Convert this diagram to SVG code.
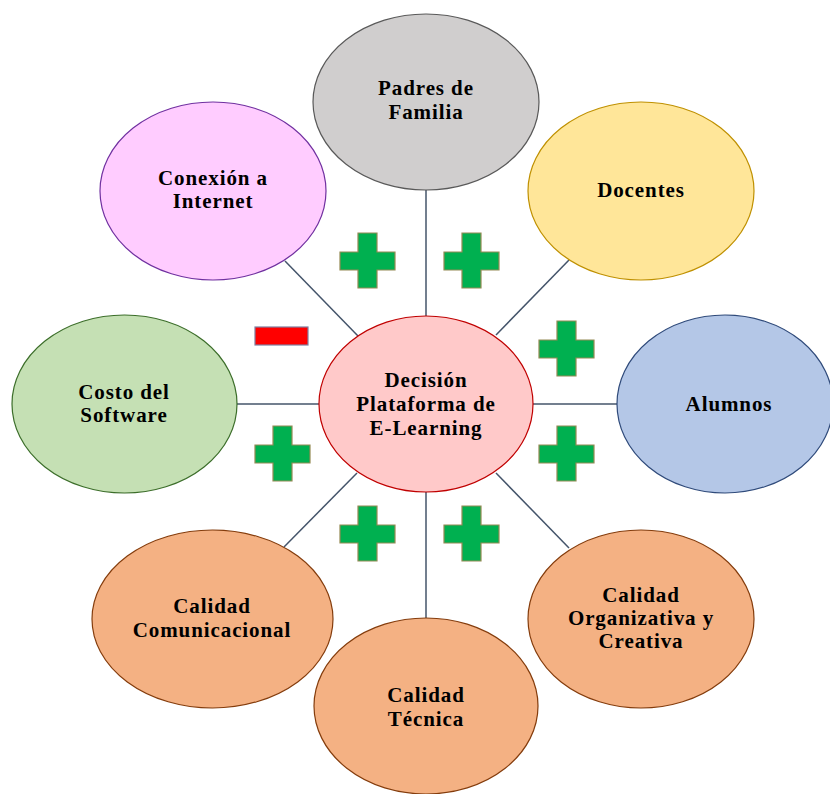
<svg xmlns="http://www.w3.org/2000/svg" width="830" height="794" viewBox="0 0 830 794">
<style>
.t{font-family:'Liberation Serif','DejaVu Serif',serif;font-weight:700;font-size:21px;letter-spacing:0.9px;fill:#000;text-anchor:middle}
.c{stroke:#44546A;stroke-width:1.5;fill:none}
.plus{fill:#00B050;stroke:#948A54;stroke-width:1.2}
</style>
<defs>
<path id="plus" d="M18,0 H37 V19 H55 V37 H37 V55 H18 V37 H0 V19 H18 Z"/>
</defs>
<rect width="830" height="794" fill="#fff"/>
<g id="connectors">
<line class="c" x1="426" y1="190" x2="426" y2="316"/>
<line class="c" x1="426" y1="492" x2="426" y2="618"/>
<line class="c" x1="237" y1="404" x2="319" y2="404"/>
<line class="c" x1="533" y1="404" x2="617" y2="404"/>
<line class="c" x1="285" y1="261" x2="358" y2="336"/>
<line class="c" x1="569" y1="260" x2="496" y2="335"/>
<line class="c" x1="284" y1="547" x2="357" y2="473"/>
<line class="c" x1="569" y1="548" x2="496" y2="473"/>
</g>
<g id="signs">
<use href="#plus" class="plus" x="340" y="233"/>
<use href="#plus" class="plus" x="444" y="233"/>
<use href="#plus" class="plus" x="539" y="321"/>
<use href="#plus" class="plus" x="539" y="426"/>
<use href="#plus" class="plus" x="255" y="426"/>
<use href="#plus" class="plus" x="340" y="506"/>
<use href="#plus" class="plus" x="444" y="506"/>
<rect x="255" y="327" width="53" height="18" fill="#FF0000" stroke="#7F7FA0" stroke-width="1.2"/>
</g>
<g id="center">
<ellipse cx="426" cy="404" rx="107" ry="88" fill="#FFC9C9" stroke="#C00000" stroke-width="1.2"/>
<text class="t" x="426" y="387">Decisión</text>
<text class="t" x="426" y="411">Plataforma de</text>
<text class="t" x="426" y="435">E-Learning</text>
</g>
<g id="padres">
<ellipse cx="426" cy="102" rx="113" ry="88" fill="#D0CECE" stroke="#595959" stroke-width="1.2"/>
<text class="t" x="426" y="95">Padres de</text>
<text class="t" x="426" y="119">Familia</text>
</g>
<g id="docentes">
<ellipse cx="641" cy="191" rx="113" ry="89" fill="#FFE699" stroke="#BF9000" stroke-width="1.2"/>
<text class="t" x="641" y="197">Docentes</text>
</g>
<g id="conexion">
<ellipse cx="213" cy="191" rx="113" ry="89" fill="#FFCCFF" stroke="#7030A0" stroke-width="1.2"/>
<text class="t" x="213" y="185">Conexión a</text>
<text class="t" x="213" y="208">Internet</text>
</g>
<g id="alumnos">
<ellipse cx="725" cy="404" rx="108" ry="89" fill="#B4C7E7" stroke="#2F4A7A" stroke-width="1.2"/>
<text class="t" x="729" y="411">Alumnos</text>
</g>
<g id="costo">
<ellipse cx="124.5" cy="404" rx="112.5" ry="89" fill="#C5E0B4" stroke="#3C6E2A" stroke-width="1.2"/>
<text class="t" x="124" y="399">Costo del</text>
<text class="t" x="124" y="422">Software</text>
</g>
<g id="comunicacional">
<ellipse cx="212.5" cy="619" rx="120.5" ry="89" fill="#F4B183" stroke="#843C0C" stroke-width="1.2"/>
<text class="t" x="212" y="613">Calidad</text>
<text class="t" x="212" y="637">Comunicacional</text>
</g>
<g id="organizativa">
<ellipse cx="641" cy="619" rx="113" ry="89" fill="#F4B183" stroke="#843C0C" stroke-width="1.2"/>
<text class="t" x="641" y="602">Calidad</text>
<text class="t" x="641" y="625">Organizativa y</text>
<text class="t" x="641" y="648">Creativa</text>
</g>
<g id="tecnica">
<ellipse cx="426" cy="706" rx="112" ry="88" fill="#F4B183" stroke="#843C0C" stroke-width="1.2"/>
<text class="t" x="426" y="702">Calidad</text>
<text class="t" x="426" y="726">Técnica</text>
</g>
</svg>
